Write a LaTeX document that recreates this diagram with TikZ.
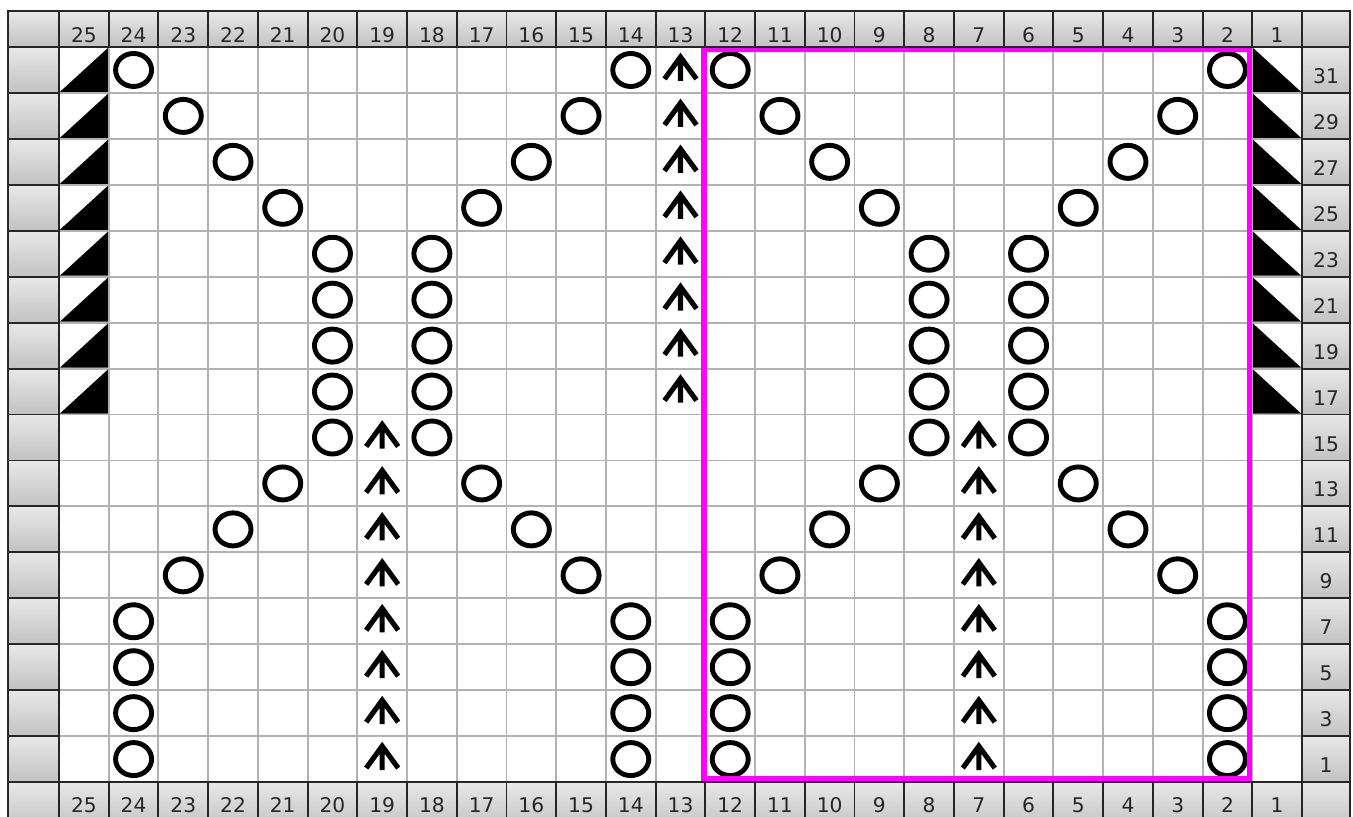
\documentclass[tikz,border=0pt]{standalone}
\usepackage{fontspec}
\setmainfont{DejaVu Sans}
\definecolor{repeatpink}{RGB}{255,0,255}
\begin{document}
\begin{tikzpicture}[
      x=0.02cm, y=-0.02cm,
      hdr/.style={draw=black!85, line width=1.1pt, top color=gray!18, bottom color=gray!48},
      gridline/.style={draw=gray!60, line width=1.1pt},
      num/.style={anchor=base, text=black!85, font=\fontsize{11.5}{13}\selectfont},
      repeatbox/.style={draw=repeatpink, line width=3pt},
      yo/.pic={\draw[line width=2.8pt] (0,0) ellipse [x radius=18, y radius=16.5];},
      cdd/.pic={\draw[line width=2.9pt] (-16,9) -- (0,-13) -- (16,9) (0,-13) -- (0,11);},
      wedgel/.pic={\fill (-24,22) -- (24,22) -- (24,-22) -- cycle;},
      wedger/.pic={\fill (-24,-22) -- (-24,22) -- (24,22) -- cycle;}
    ]
    \path[use as bounding box, clip] (0,0) rectangle (1353,816);
    \foreach \c in {1,...,25}
      \foreach \r in {1,3,...,31}
        \coordinate (k\c-\r) at ({59+(25.5-\c)*49.72}, {47+(16-\r/2)*45.94});

    \fill[white] (59,47) rectangle (1302,782);
    \foreach \k in {1,...,24}
      \draw[gridline] ({59+\k*49.72},47) -- ({59+\k*49.72},782);
    \foreach \k in {1,...,15}
      \draw[gridline] (59,{47+\k*45.94}) -- (1302,{47+\k*45.94});

    \foreach \i in {0,...,3} {
      \pgfmathtruncatemacro{\r}{31-2*\i}
      \pgfmathtruncatemacro{\ca}{24-\i}
      \pgfmathtruncatemacro{\cb}{14+\i}
      \pgfmathtruncatemacro{\cc}{12-\i}
      \pgfmathtruncatemacro{\cd}{2+\i}
      \foreach \c in {\ca,\cb,\cc,\cd}
        \pic at (k\c-\r) {yo};
    }
    \foreach \r in {15,17,...,23}
      \foreach \c in {20,18,8,6}
        \pic at (k\c-\r) {yo};
    \foreach \i in {0,1,2} {
      \pgfmathtruncatemacro{\r}{13-2*\i}
      \pgfmathtruncatemacro{\ca}{21+\i}
      \pgfmathtruncatemacro{\cb}{17-\i}
      \pgfmathtruncatemacro{\cc}{9+\i}
      \pgfmathtruncatemacro{\cd}{5-\i}
      \foreach \c in {\ca,\cb,\cc,\cd}
        \pic at (k\c-\r) {yo};
    }
    \foreach \r in {1,3,5,7}
      \foreach \c in {24,14,12,2}
        \pic at (k\c-\r) {yo};
    \foreach \r in {17,19,...,31} {
      \pic at (k13-\r) {cdd};
      \pic at (k25-\r) {wedgel};
      \pic at (k1-\r) {wedger};
    }
    \foreach \r in {1,3,...,15} {
      \pic at (k19-\r) {cdd};
      \pic at (k7-\r) {cdd};
    }
    \draw[repeatbox] (704,49.5) rectangle (1249.5,778.5);

    \path[hdr] (8,11) rectangle (59,47);
    \path[hdr] (1302,11) rectangle (1350,47);
    \path[hdr] (8,782) rectangle (59,830);
    \path[hdr] (1302,782) rectangle (1350,830);
    \foreach \c [evaluate=\c as \xl using {59+(25-\c)*49.72}] in {1,...,25} {
      \path[hdr] (\xl,11) rectangle ({\xl+49.72},47);
      \path[hdr] (\xl,782) rectangle ({\xl+49.72},830);
      \node[num] (top\c) at ({\xl+24.86},42) {\c};
      \node[num] (bot\c) at ({\xl+24.86},812) {\c};
    }
    \foreach \r [evaluate=\r as \yt using {47+(15.5-\r/2)*45.94}] in {1,3,...,31} {
      \path[hdr] (8,\yt) rectangle (59,{\yt+45.94});
      \path[hdr] (1302,\yt) rectangle (1350,{\yt+45.94});
      \node[num] (row\r) at (1326,{\yt+36.5}) {\r};
    }
  \end{tikzpicture}
\end{document}
